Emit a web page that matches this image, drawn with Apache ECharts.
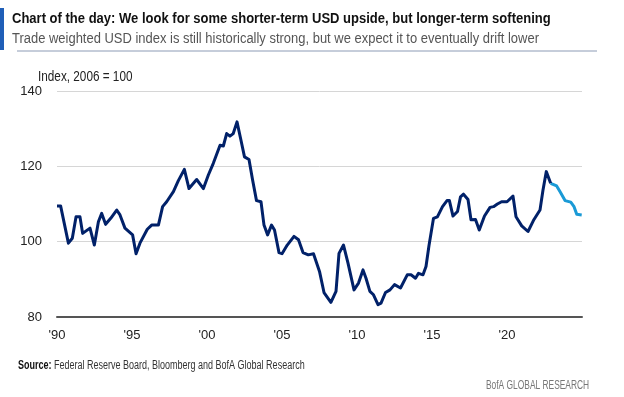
<!DOCTYPE html>
<html>
<head>
<meta charset="utf-8">
<script src="https://cdn.jsdelivr.net/npm/echarts@6/dist/echarts.min.js"></script>
<style>
  html, body { margin: 0; padding: 0; background: #fff; }
  #chart { width: 624px; height: 397px; }
</style>
</head>
<body>
<div id="chart"></div>
<script>
// trade weighted USD index (decimal years)
var histYears = [
  1990.0, 1990.24, 1990.76, 1991.02, 1991.27, 1991.53, 1991.71, 1992.2, 1992.49, 1992.76,
  1992.98, 1993.24, 1993.58, 1993.98, 1994.2, 1994.53, 1995.04, 1995.27, 1995.53, 1996.02,
  1996.31, 1996.76, 1997.04, 1997.31, 1997.76, 1998.09, 1998.49, 1998.8, 1999.31, 1999.76,
  2000.09, 2000.42, 2000.87, 2001.09, 2001.31, 2001.53, 2001.75, 2002.0, 2002.24, 2002.5,
  2002.8, 2003.04, 2003.3, 2003.6, 2003.8, 2004.04, 2004.3, 2004.5, 2004.8, 2005.0,
  2005.35, 2005.8, 2006.1, 2006.4, 2006.75, 2007.1, 2007.5, 2007.8, 2008.26, 2008.6,
  2008.8, 2009.1, 2009.4, 2009.8, 2010.1, 2010.4, 2010.6, 2010.86, 2011.1, 2011.4,
  2011.6, 2011.9, 2012.2, 2012.5, 2012.9, 2013.35, 2013.6, 2013.9, 2014.1, 2014.4,
  2014.6, 2014.8, 2015.1, 2015.36, 2015.7, 2016.0, 2016.16, 2016.4, 2016.7, 2016.9,
  2017.1, 2017.4, 2017.6, 2017.9, 2018.15, 2018.5, 2018.87, 2019.1, 2019.36, 2019.64,
  2020.0, 2020.4, 2020.6, 2020.98, 2021.4, 2021.8, 2022.2, 2022.4, 2022.62, 2022.91
]
var histValues = [
  109.5, 109.5, 99.6, 100.9, 106.6, 106.6, 102.2, 103.6, 99.1, 105.3,
  107.5, 104.6, 106.2, 108.4, 107.1, 103.6, 101.8, 96.8, 99.6, 103.3,
  104.4, 104.4, 109.3, 110.6, 113.3, 116.2, 119.2, 114.1, 116.5, 114.1,
  117.7, 120.8, 125.6, 125.4, 128.7, 128.0, 128.7, 131.8, 127.4, 122.5,
  121.8, 116.4, 110.9, 110.6, 104.4, 101.8, 104.4, 103.1, 97.1, 96.8,
  99.1, 101.4, 100.5, 97.1, 96.5, 96.8, 92.1, 86.5, 83.9, 86.8,
  96.9, 99.1, 94.3, 87.2, 89.0, 92.5, 90.3, 86.8, 85.9, 83.3,
  83.7, 86.5, 87.2, 88.6, 87.7, 91.2, 91.2, 90.3, 91.6, 91.2,
  93.4, 99.0, 106.2, 106.6, 109.3, 110.9, 110.9, 106.8, 108.0, 111.9,
  112.6, 111.2, 105.8, 105.9, 103.1, 106.8, 109.1, 109.3, 110.0, 110.6,
  110.6, 112.1, 106.6, 104.2, 102.7, 105.9, 108.4, 113.7, 118.6, 115.5
]
// BofA forecast path
var fcstYears = [2022.91, 2023.31, 2023.53, 2023.87, 2024.25, 2024.47, 2024.65, 2024.98]
var fcstValues = [115.5, 114.8, 113.3, 110.9, 110.5, 109.3, 107.3, 107.1]

var xTickLabels = ["'90", "'95", "'00", "'05", "'10", "'15", "'20"]

var titleText = 'Chart of the day: We look for some shorter-term USD upside, but longer-term softening'
var subtitleText = 'Trade weighted USD index is still historically strong, but we expect it to eventually drift lower'

var sans = '"Liberation Sans", Arial, sans-serif'

function pairs (xs, ys) {
  return xs.map(function (x, i) { return [x, ys[i]] })
}

// no condensed face installed, so squeeze the text horizontally instead
function label (x, y, text, font, fill, sx, extra) {
  var style = { text: text, font: font, fill: fill, verticalAlign: 'middle', align: 'left' }
  if (extra) Object.assign(style, extra)
  return { type: 'text', x: x, y: y, scaleX: sx, style: style }
}

var chart = echarts.init(document.getElementById('chart'))
var option = {
  backgroundColor: '#fff',
  animation: false,
  grid: {
    left: 57,
    right: 42,
    top: 91,
    bottom: 80
  },
  xAxis: {
    type: 'value',
    min: 1990,
    max: 2025,
    interval: 5,
    axisLine: { show: true, onZero: false, lineStyle: { color: '#555', width: 2 } },
    axisTick: { show: false },
    splitLine: { show: false },
    axisLabel: {
      showMaxLabel: false,
      margin: 12,
      color: '#222',
      fontFamily: sans,
      fontSize: 13,
      formatter: function (v) {
        return xTickLabels[Math.round((v - 1990) / 5)] || ''
      }
    }
  },
  yAxis: {
    type: 'value',
    min: 80,
    max: 140,
    interval: 20,
    axisLine: { show: false },
    axisTick: { show: false },
    splitLine: { lineStyle: { color: '#d6d6d6', width: 1 } },
    axisLabel: {
      margin: 15,
      color: '#222',
      fontFamily: sans,
      fontSize: 13,
      padding: [4, 0, 0, 0]
    }
  },
  series: [
    {
      type: 'line',
      data: pairs(histYears, histValues),
      showSymbol: false,
      lineStyle: { color: '#012169', width: 3, join: 'round' },
      z: 3
    },
    {
      type: 'line',
      data: pairs(fcstYears, fcstValues),
      showSymbol: false,
      lineStyle: { color: '#1a9ad6', width: 3, join: 'round' },
      z: 2
    }
  ],
  graphic: [
    { type: 'rect', shape: { x: 0, y: 8, width: 4, height: 42 }, style: { fill: '#1f5fb8' } },
    label(12, 19, titleText, 'bold 14px ' + sans, '#111', 0.93),
    label(12, 39, subtitleText, '14px ' + sans, '#555', 0.926),
    { type: 'line', shape: { x1: 17, y1: 51, x2: 597, y2: 51 }, style: { stroke: '#8c9bb5', lineWidth: 1 } },
    label(38, 77, 'Index, 2006 = 100', '14px ' + sans, '#222', 0.84),
    label(18, 366, '{b|Source:} Federal Reserve Board, Bloomberg and BofA Global Research',
      '12px ' + sans, '#333', 0.75,
      { rich: { b: { fill: '#111', font: 'bold 12px ' + sans } } }),
    label(486, 386, 'BofA GLOBAL RESEARCH', '12px ' + sans, '#777', 0.7)
  ]
}
chart.setOption(option)
window.addEventListener('resize', function () { chart.resize() })
</script>
</body>
</html>
